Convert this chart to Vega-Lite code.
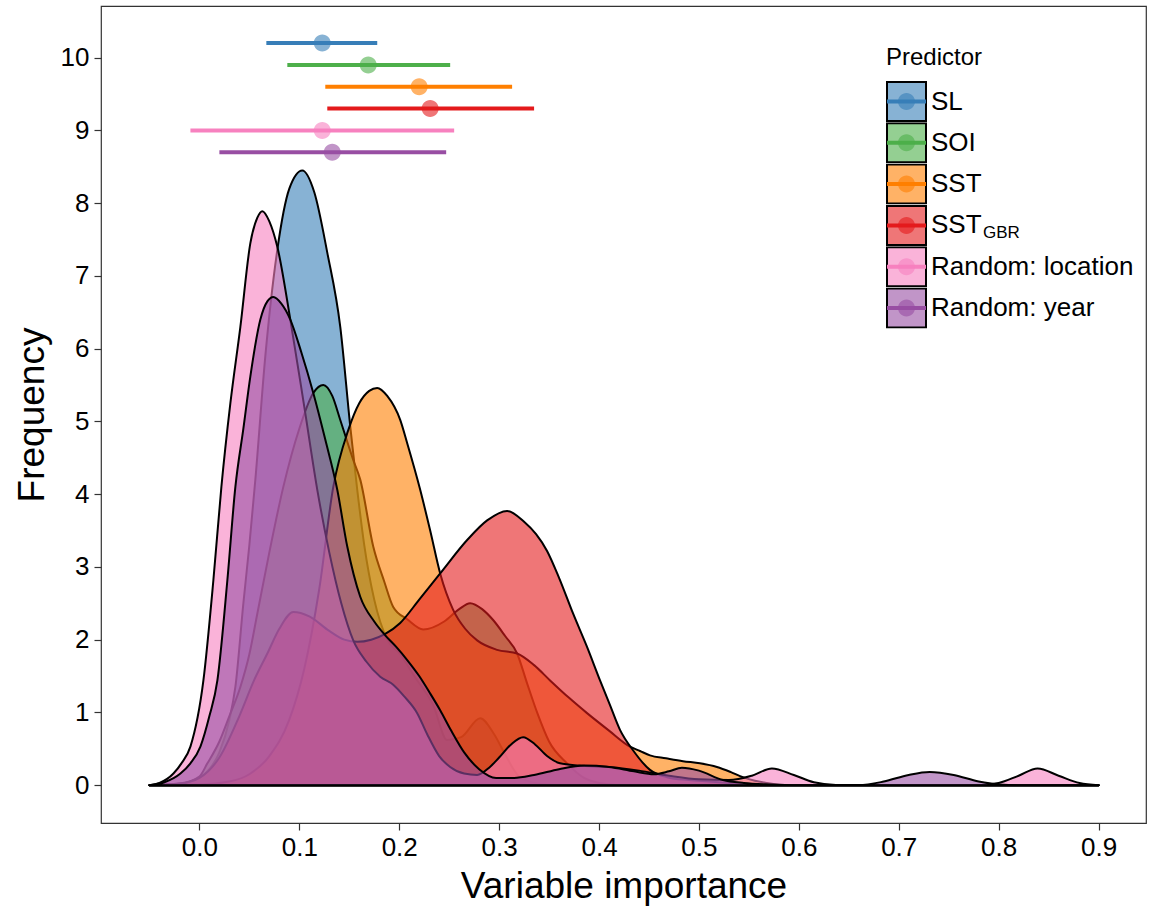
{
"$schema": "https://vega.github.io/schema/vega-lite/v6.json",
"width": 1045, "height": 817,
"autosize": {"type": "none"},
"padding": {"left": 101, "top": 6, "right": 6, "bottom": 89},
"config": {
 "font": "Liberation Sans",
 "view": {"stroke": "#333333", "strokeWidth": 1.2},
 "axis": {"grid": false, "domain": false, "tickColor": "#333333", "tickSize": 7, "tickWidth": 1.2, "labelFontSize": 26, "labelColor": "#000000", "titleFontSize": 37, "titleFontWeight": "normal", "titleColor": "#000000", "labelFont": "Liberation Sans", "titleFont": "Liberation Sans"},
 "legend": {"padding": 0, "titleFontSize": 24, "titleFontWeight": "normal", "titleColor": "#000000", "titleFont": "Liberation Sans", "labelFont": "Liberation Sans", "labelFontSize": 26, "labelColor": "#000000", "rowPadding": 0.3, "titlePadding": 11, "labelLimit": 400, "clipHeight": 41}
},
"datasets": {
 "dens": [
{"p":"SL","x":-0.05,"d":0},{"p":"SL","x":-0.03,"d":0.01},{"p":"SL","x":-0.01,"d":0.05},{"p":"SL","x":0,"d":0.1},{"p":"SL","x":0.01,"d":0.22},{"p":"SL","x":0.02,"d":0.45},{"p":"SL","x":0.03,"d":0.9},{"p":"SL","x":0.036,"d":1.35},{"p":"SL","x":0.044,"d":2.5},{"p":"SL","x":0.05,"d":3.3},{"p":"SL","x":0.056,"d":4.2},{"p":"SL","x":0.066,"d":5.9},{"p":"SL","x":0.078,"d":7.36},{"p":"SL","x":0.09,"d":8.2},{"p":"SL","x":0.103,"d":8.45},{"p":"SL","x":0.115,"d":8.15},{"p":"SL","x":0.128,"d":7.32},{"p":"SL","x":0.141,"d":6.3},{"p":"SL","x":0.151,"d":4.93},{"p":"SL","x":0.158,"d":4.06},{"p":"SL","x":0.165,"d":3.3},{"p":"SL","x":0.175,"d":2.55},{"p":"SL","x":0.188,"d":2.0},{"p":"SL","x":0.201,"d":1.8},{"p":"SL","x":0.215,"d":1.5},{"p":"SL","x":0.234,"d":1.1},{"p":"SL","x":0.248,"d":0.62},{"p":"SL","x":0.262,"d":0.66},{"p":"SL","x":0.281,"d":0.92},{"p":"SL","x":0.295,"d":0.7},{"p":"SL","x":0.305,"d":0.45},{"p":"SL","x":0.32,"d":0.12},{"p":"SL","x":0.34,"d":0.02},{"p":"SL","x":0.36,"d":0},{"p":"SL","x":0.9,"d":0},
{"p":"SOI","x":-0.05,"d":0},{"p":"SOI","x":-0.02,"d":0.02},{"p":"SOI","x":0,"d":0.12},{"p":"SOI","x":0.008,"d":0.3},{"p":"SOI","x":0.02,"d":0.6},{"p":"SOI","x":0.03,"d":0.95},{"p":"SOI","x":0.041,"d":1.35},{"p":"SOI","x":0.05,"d":1.8},{"p":"SOI","x":0.058,"d":2.36},{"p":"SOI","x":0.07,"d":3.2},{"p":"SOI","x":0.084,"d":4.1},{"p":"SOI","x":0.1,"d":4.9},{"p":"SOI","x":0.114,"d":5.39},{"p":"SOI","x":0.124,"d":5.5},{"p":"SOI","x":0.133,"d":5.35},{"p":"SOI","x":0.141,"d":5.02},{"p":"SOI","x":0.154,"d":4.47},{"p":"SOI","x":0.161,"d":4.2},{"p":"SOI","x":0.174,"d":3.28},{"p":"SOI","x":0.185,"d":2.8},{"p":"SOI","x":0.194,"d":2.45},{"p":"SOI","x":0.208,"d":2.28},{"p":"SOI","x":0.224,"d":2.14},{"p":"SOI","x":0.245,"d":2.25},{"p":"SOI","x":0.26,"d":2.42},{"p":"SOI","x":0.271,"d":2.5},{"p":"SOI","x":0.283,"d":2.42},{"p":"SOI","x":0.294,"d":2.27},{"p":"SOI","x":0.306,"d":2.05},{"p":"SOI","x":0.318,"d":1.81},{"p":"SOI","x":0.328,"d":1.4},{"p":"SOI","x":0.338,"d":1.0},{"p":"SOI","x":0.35,"d":0.6},{"p":"SOI","x":0.368,"d":0.3},{"p":"SOI","x":0.385,"d":0.1},{"p":"SOI","x":0.4,"d":0.03},{"p":"SOI","x":0.42,"d":0},{"p":"SOI","x":0.9,"d":0},
{"p":"SST","x":-0.05,"d":0},{"p":"SST","x":0,"d":0.01},{"p":"SST","x":0.03,"d":0.05},{"p":"SST","x":0.05,"d":0.15},{"p":"SST","x":0.07,"d":0.4},{"p":"SST","x":0.09,"d":0.9},{"p":"SST","x":0.105,"d":1.6},{"p":"SST","x":0.12,"d":2.7},{"p":"SST","x":0.134,"d":4.1},{"p":"SST","x":0.149,"d":4.88},{"p":"SST","x":0.16,"d":5.25},{"p":"SST","x":0.17,"d":5.42},{"p":"SST","x":0.178,"d":5.46},{"p":"SST","x":0.188,"d":5.35},{"p":"SST","x":0.201,"d":5.02},{"p":"SST","x":0.208,"d":4.7},{"p":"SST","x":0.221,"d":4.06},{"p":"SST","x":0.231,"d":3.5},{"p":"SST","x":0.241,"d":2.91},{"p":"SST","x":0.254,"d":2.41},{"p":"SST","x":0.266,"d":2.15},{"p":"SST","x":0.278,"d":1.99},{"p":"SST","x":0.298,"d":1.86},{"p":"SST","x":0.318,"d":1.81},{"p":"SST","x":0.335,"d":1.65},{"p":"SST","x":0.351,"d":1.44},{"p":"SST","x":0.37,"d":1.2},{"p":"SST","x":0.388,"d":0.99},{"p":"SST","x":0.41,"d":0.75},{"p":"SST","x":0.431,"d":0.53},{"p":"SST","x":0.441,"d":0.47},{"p":"SST","x":0.451,"d":0.41},{"p":"SST","x":0.467,"d":0.37},{"p":"SST","x":0.484,"d":0.33},{"p":"SST","x":0.501,"d":0.3},{"p":"SST","x":0.518,"d":0.25},{"p":"SST","x":0.532,"d":0.18},{"p":"SST","x":0.544,"d":0.11},{"p":"SST","x":0.556,"d":0.06},{"p":"SST","x":0.568,"d":0.03},{"p":"SST","x":0.59,"d":0},{"p":"SST","x":0.9,"d":0},
{"p":"SST_GBR","x":-0.05,"d":0},{"p":"SST_GBR","x":-0.02,"d":0.02},{"p":"SST_GBR","x":0,"d":0.1},{"p":"SST_GBR","x":0.02,"d":0.38},{"p":"SST_GBR","x":0.04,"d":0.95},{"p":"SST_GBR","x":0.055,"d":1.45},{"p":"SST_GBR","x":0.068,"d":1.81},{"p":"SST_GBR","x":0.08,"d":2.15},{"p":"SST_GBR","x":0.094,"d":2.38},{"p":"SST_GBR","x":0.11,"d":2.32},{"p":"SST_GBR","x":0.13,"d":2.12},{"p":"SST_GBR","x":0.145,"d":2.0},{"p":"SST_GBR","x":0.158,"d":1.97},{"p":"SST_GBR","x":0.172,"d":2.0},{"p":"SST_GBR","x":0.186,"d":2.08},{"p":"SST_GBR","x":0.201,"d":2.23},{"p":"SST_GBR","x":0.22,"d":2.55},{"p":"SST_GBR","x":0.241,"d":2.91},{"p":"SST_GBR","x":0.268,"d":3.37},{"p":"SST_GBR","x":0.288,"d":3.64},{"p":"SST_GBR","x":0.308,"d":3.77},{"p":"SST_GBR","x":0.325,"d":3.62},{"p":"SST_GBR","x":0.337,"d":3.45},{"p":"SST_GBR","x":0.348,"d":3.22},{"p":"SST_GBR","x":0.36,"d":2.85},{"p":"SST_GBR","x":0.374,"d":2.36},{"p":"SST_GBR","x":0.388,"d":1.9},{"p":"SST_GBR","x":0.401,"d":1.44},{"p":"SST_GBR","x":0.411,"d":1.1},{"p":"SST_GBR","x":0.421,"d":0.76},{"p":"SST_GBR","x":0.434,"d":0.48},{"p":"SST_GBR","x":0.451,"d":0.21},{"p":"SST_GBR","x":0.468,"d":0.11},{"p":"SST_GBR","x":0.49,"d":0.07},{"p":"SST_GBR","x":0.51,"d":0.05},{"p":"SST_GBR","x":0.53,"d":0.03},{"p":"SST_GBR","x":0.56,"d":0},{"p":"SST_GBR","x":0.9,"d":0},
{"p":"Random: location","x":-0.05,"d":0},{"p":"Random: location","x":-0.04,"d":0.03},{"p":"Random: location","x":-0.026,"d":0.16},{"p":"Random: location","x":-0.018,"d":0.3},{"p":"Random: location","x":-0.009,"d":0.53},{"p":"Random: location","x":0.004,"d":1.44},{"p":"Random: location","x":0.014,"d":2.82},{"p":"Random: location","x":0.022,"d":4.1},{"p":"Random: location","x":0.031,"d":5.25},{"p":"Random: location","x":0.041,"d":6.3},{"p":"Random: location","x":0.051,"d":7.45},{"p":"Random: location","x":0.058,"d":7.8},{"p":"Random: location","x":0.063,"d":7.89},{"p":"Random: location","x":0.07,"d":7.75},{"p":"Random: location","x":0.078,"d":7.4},{"p":"Random: location","x":0.091,"d":6.4},{"p":"Random: location","x":0.105,"d":5.2},{"p":"Random: location","x":0.118,"d":4.06},{"p":"Random: location","x":0.13,"d":3.2},{"p":"Random: location","x":0.142,"d":2.5},{"p":"Random: location","x":0.154,"d":1.99},{"p":"Random: location","x":0.167,"d":1.7},{"p":"Random: location","x":0.181,"d":1.49},{"p":"Random: location","x":0.194,"d":1.38},{"p":"Random: location","x":0.205,"d":1.22},{"p":"Random: location","x":0.218,"d":0.99},{"p":"Random: location","x":0.228,"d":0.7},{"p":"Random: location","x":0.24,"d":0.4},{"p":"Random: location","x":0.251,"d":0.25},{"p":"Random: location","x":0.265,"d":0.16},{"p":"Random: location","x":0.278,"d":0.14},{"p":"Random: location","x":0.29,"d":0.24},{"p":"Random: location","x":0.3,"d":0.38},{"p":"Random: location","x":0.312,"d":0.56},{"p":"Random: location","x":0.324,"d":0.66},{"p":"Random: location","x":0.336,"d":0.56},{"p":"Random: location","x":0.348,"d":0.4},{"p":"Random: location","x":0.361,"d":0.3},{"p":"Random: location","x":0.38,"d":0.27},{"p":"Random: location","x":0.41,"d":0.25},{"p":"Random: location","x":0.44,"d":0.2},{"p":"Random: location","x":0.47,"d":0.13},{"p":"Random: location","x":0.5,"d":0.08},{"p":"Random: location","x":0.53,"d":0.07},{"p":"Random: location","x":0.553,"d":0.13},{"p":"Random: location","x":0.573,"d":0.23},{"p":"Random: location","x":0.595,"d":0.14},{"p":"Random: location","x":0.615,"d":0.04},{"p":"Random: location","x":0.64,"d":0},{"p":"Random: location","x":0.78,"d":0},{"p":"Random: location","x":0.8,"d":0.03},{"p":"Random: location","x":0.82,"d":0.13},{"p":"Random: location","x":0.839,"d":0.23},{"p":"Random: location","x":0.86,"d":0.13},{"p":"Random: location","x":0.881,"d":0.03},{"p":"Random: location","x":0.9,"d":0},
{"p":"Random: year","x":-0.05,"d":0},{"p":"Random: year","x":-0.035,"d":0.04},{"p":"Random: year","x":-0.019,"d":0.16},{"p":"Random: year","x":-0.009,"d":0.3},{"p":"Random: year","x":0.001,"d":0.53},{"p":"Random: year","x":0.01,"d":0.95},{"p":"Random: year","x":0.018,"d":1.44},{"p":"Random: year","x":0.028,"d":2.82},{"p":"Random: year","x":0.036,"d":4.1},{"p":"Random: year","x":0.044,"d":4.9},{"p":"Random: year","x":0.051,"d":5.62},{"p":"Random: year","x":0.061,"d":6.4},{"p":"Random: year","x":0.068,"d":6.65},{"p":"Random: year","x":0.074,"d":6.71},{"p":"Random: year","x":0.082,"d":6.62},{"p":"Random: year","x":0.091,"d":6.4},{"p":"Random: year","x":0.102,"d":5.95},{"p":"Random: year","x":0.114,"d":5.39},{"p":"Random: year","x":0.126,"d":4.75},{"p":"Random: year","x":0.138,"d":4.06},{"p":"Random: year","x":0.148,"d":3.28},{"p":"Random: year","x":0.161,"d":2.59},{"p":"Random: year","x":0.175,"d":2.25},{"p":"Random: year","x":0.186,"d":2.06},{"p":"Random: year","x":0.197,"d":1.9},{"p":"Random: year","x":0.208,"d":1.72},{"p":"Random: year","x":0.22,"d":1.5},{"p":"Random: year","x":0.231,"d":1.26},{"p":"Random: year","x":0.241,"d":1.03},{"p":"Random: year","x":0.252,"d":0.75},{"p":"Random: year","x":0.265,"d":0.45},{"p":"Random: year","x":0.28,"d":0.22},{"p":"Random: year","x":0.297,"d":0.1},{"p":"Random: year","x":0.315,"d":0.1},{"p":"Random: year","x":0.335,"d":0.14},{"p":"Random: year","x":0.36,"d":0.22},{"p":"Random: year","x":0.385,"d":0.27},{"p":"Random: year","x":0.41,"d":0.25},{"p":"Random: year","x":0.435,"d":0.19},{"p":"Random: year","x":0.455,"d":0.15},{"p":"Random: year","x":0.47,"d":0.19},{"p":"Random: year","x":0.483,"d":0.24},{"p":"Random: year","x":0.5,"d":0.2},{"p":"Random: year","x":0.524,"d":0.07},{"p":"Random: year","x":0.545,"d":0.03},{"p":"Random: year","x":0.57,"d":0.01},{"p":"Random: year","x":0.6,"d":0},{"p":"Random: year","x":0.66,"d":0},{"p":"Random: year","x":0.685,"d":0.05},{"p":"Random: year","x":0.71,"d":0.14},{"p":"Random: year","x":0.731,"d":0.18},{"p":"Random: year","x":0.755,"d":0.14},{"p":"Random: year","x":0.78,"d":0.05},{"p":"Random: year","x":0.8,"d":0.01},{"p":"Random: year","x":0.82,"d":0},{"p":"Random: year","x":0.9,"d":0}
 ],
 "bars": [
{"p":"SL","lo":0.067,"hi":0.178,"m":0.123,"yv":10.2},
{"p":"SOI","lo":0.088,"hi":0.251,"m":0.169,"yv":9.9},
{"p":"SST","lo":0.126,"hi":0.313,"m":0.220,"yv":9.6},
{"p":"SST_GBR","lo":0.128,"hi":0.335,"m":0.231,"yv":9.3},
{"p":"Random: location","lo":-0.009,"hi":0.255,"m":0.123,"yv":9.0},
{"p":"Random: year","lo":0.020,"hi":0.247,"m":0.133,"yv":8.7}
 ]
},
"resolve": {"scale": {"fill": "independent"}, "legend": {"fill": "independent"}},
"layer": [
 {"layer": [
 {"data": {"name": "dens"}, "transform": [{"filter": "datum.p == 'SL'"}],
  "mark": {"type": "area", "interpolate": "monotone", "fillOpacity": 0.6, "stroke": "#000000", "strokeWidth": 2, "strokeJoin": "round"},
  "encoding": {
   "x": {"field": "x", "type": "quantitative", "title": "Variable importance", "scale": {"domain": [-0.0985, 0.9475], "nice": false, "zero": false}, "axis": {"values": [0,0.1,0.2,0.3,0.4,0.5,0.6,0.7,0.8,0.9], "format": ".1f", "labelPadding": 4, "titlePadding": 8}},
   "y": {"field": "d", "type": "quantitative", "stack": null, "title": "Frequency", "scale": {"domain": [-0.52, 10.71], "nice": false, "zero": false}, "axis": {"values": [0,1,2,3,4,5,6,7,8,9,10], "format": "d", "labelPadding": 5, "titlePadding": 9}},
   "y2": {"datum": 0},
   "fill": {"field": "p", "type": "nominal", "scale": {"domain": ["SL","SOI","SST","SST_GBR","Random: location","Random: year"], "range": ["#377EB8","#4DAF4A","#FF7F00","#E41A1C","#F781BF","#984EA3"]},
    "legend": {"orient": "none", "legendX": 785, "legendY": 40, "title": "Predictor", "symbolType": "square", "symbolSize": 1521, "symbolStrokeWidth": 2, "symbolStrokeColor": "#000000", "labelOffset": 4, "clipHeight": 41, "rowPadding": 0.3, "zindex": 1, "labelExpr": "datum.value == 'SST_GBR' ? 'SST' : datum.label",
     "encode": {"symbols": {"update": {"fillOpacity": {"value": 0.6}, "stroke": {"value": "#000000"}, "strokeWidth": {"value": 2}}}}}}
  }},
 {"data": {"name": "dens"}, "transform": [{"filter": "datum.p == 'SOI'"}],
  "mark": {"type": "area", "interpolate": "monotone", "fillOpacity": 0.6, "stroke": "#000000", "strokeWidth": 2, "strokeJoin": "round"},
  "encoding": {"x": {"field": "x", "type": "quantitative", "title": "Variable importance"}, "y": {"field": "d", "type": "quantitative", "stack": null, "title": "Frequency"}, "y2": {"datum": 0}, "fill": {"field": "p", "type": "nominal"}}},
 {"data": {"name": "dens"}, "transform": [{"filter": "datum.p == 'SST'"}],
  "mark": {"type": "area", "interpolate": "monotone", "fillOpacity": 0.6, "stroke": "#000000", "strokeWidth": 2, "strokeJoin": "round"},
  "encoding": {"x": {"field": "x", "type": "quantitative", "title": "Variable importance"}, "y": {"field": "d", "type": "quantitative", "stack": null, "title": "Frequency"}, "y2": {"datum": 0}, "fill": {"field": "p", "type": "nominal"}}},
 {"data": {"name": "dens"}, "transform": [{"filter": "datum.p == 'SST_GBR'"}],
  "mark": {"type": "area", "interpolate": "monotone", "fillOpacity": 0.6, "stroke": "#000000", "strokeWidth": 2, "strokeJoin": "round"},
  "encoding": {"x": {"field": "x", "type": "quantitative", "title": "Variable importance"}, "y": {"field": "d", "type": "quantitative", "stack": null, "title": "Frequency"}, "y2": {"datum": 0}, "fill": {"field": "p", "type": "nominal"}}},
 {"data": {"name": "dens"}, "transform": [{"filter": "datum.p == 'Random: location'"}],
  "mark": {"type": "area", "interpolate": "monotone", "fillOpacity": 0.6, "stroke": "#000000", "strokeWidth": 2, "strokeJoin": "round"},
  "encoding": {"x": {"field": "x", "type": "quantitative", "title": "Variable importance"}, "y": {"field": "d", "type": "quantitative", "stack": null, "title": "Frequency"}, "y2": {"datum": 0}, "fill": {"field": "p", "type": "nominal"}}},
 {"data": {"name": "dens"}, "transform": [{"filter": "datum.p == 'Random: year'"}],
  "mark": {"type": "area", "interpolate": "monotone", "fillOpacity": 0.6, "stroke": "#000000", "strokeWidth": 2, "strokeJoin": "round"},
  "encoding": {"x": {"field": "x", "type": "quantitative", "title": "Variable importance"}, "y": {"field": "d", "type": "quantitative", "stack": null, "title": "Frequency"}, "y2": {"datum": 0}, "fill": {"field": "p", "type": "nominal"}}}
 ]},
 {"data": {"name": "bars"},
  "mark": {"type": "rule", "strokeWidth": 4, "strokeCap": "butt"},
  "encoding": {
   "x": {"field": "lo", "type": "quantitative", "title": "Variable importance"}, "x2": {"field": "hi"},
   "y": {"field": "yv", "type": "quantitative", "title": "Frequency"},
   "stroke": {"field": "p", "type": "nominal", "scale": {"domain": ["SL","SOI","SST","SST_GBR","Random: location","Random: year"], "range": ["#377EB8","#4DAF4A","#FF7F00","#E41A1C","#F781BF","#984EA3"]},
    "legend": {"orient": "none", "legendX": 785, "legendY": 40, "title": "Predictor", "titleOpacity": 0, "symbolType": "M-1.054,0L1.054,0M-0.838,-0.838M0.838,0.838", "symbolSize": 1369, "symbolStrokeWidth": 4, "labelOffset": 4, "labelOpacity": 0, "clipHeight": 41, "rowPadding": 0.3, "zindex": 2, "labelExpr": "datum.value == 'SST_GBR' ? 'SST' : datum.label",
     "encode": {"symbols": {"update": {"fill": {"value": "transparent"}, "strokeWidth": {"value": 4}}}}}}
  }},
 {"data": {"name": "bars"},
  "mark": {"type": "point", "filled": true, "size": 1681, "fillOpacity": 0.6, "strokeWidth": 0, "shape": "M-0.415,0A0.415,0.415,0,1,1,0.415,0A0.415,0.415,0,1,1,-0.415,0ZM-1.146,-1.146M1.146,1.146"},
  "encoding": {
   "x": {"field": "m", "type": "quantitative", "title": "Variable importance"},
   "y": {"field": "yv", "type": "quantitative", "title": "Frequency"},
   "fill": {"field": "p", "type": "nominal", "scale": {"domain": ["SL","SOI","SST","SST_GBR","Random: location","Random: year"], "range": ["#377EB8","#4DAF4A","#FF7F00","#E41A1C","#F781BF","#984EA3"]},
    "legend": {"orient": "none", "legendX": 785, "legendY": 40, "title": "Predictor", "titleOpacity": 0, "symbolType": "M-0.415,0A0.415,0.415,0,1,1,0.415,0A0.415,0.415,0,1,1,-0.415,0ZM-1.146,-1.146M1.146,1.146", "symbolSize": 1681, "symbolStrokeWidth": 0, "labelOffset": 56, "labelFontSize": 17, "clipHeight": 41, "rowPadding": 0.3, "zindex": 3, "labelExpr": "datum.value == 'SST_GBR' ? 'GBR' : ''",
     "encode": {"symbols": {"update": {"fillOpacity": {"value": 0.6}, "stroke": {"value": "transparent"}, "strokeWidth": {"value": 0}}}, "labels": {"update": {"dy": {"value": 8}}}}}}
  }}
]
}
